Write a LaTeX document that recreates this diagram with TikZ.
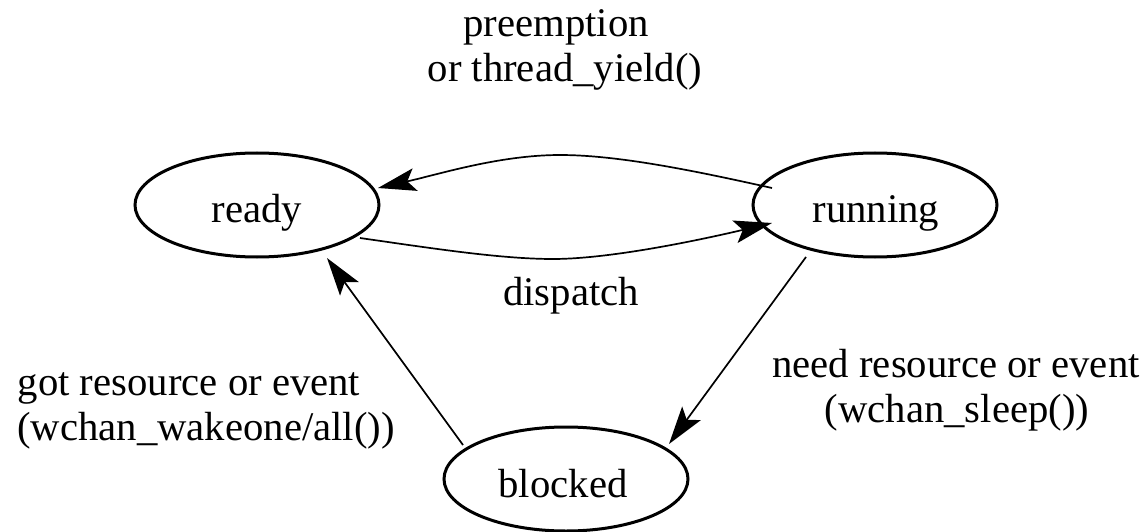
\documentclass[tikz,border=0pt]{standalone}
\usepackage{fontspec}
\setmainfont{Liberation Serif}
\usetikzlibrary{arrows.meta,calc,shapes.geometric}
\begin{document}
\begin{tikzpicture}[x=1pt,y=-1pt,
  stateshape/.style={draw,ellipse,line width=3pt,minimum width=244pt,minimum height=104pt,inner sep=0pt},
  txt/.style={anchor=base,inner sep=0pt,font=\fontsize{40.7pt}{45pt}\selectfont},
  edge/.style={line width=1.7pt,-{Stealth[length=38pt,width=23pt,inset=8pt]}}]
\useasboundingbox (0,0) rectangle (1146,532);
\node[stateshape] (ready) at (257,205) {};
\node[stateshape] (running) at (875,205) {};
\node[stateshape] (blocked) at (566,479) {};
\node[txt] (tready) at (257,222) {ready};
\node[txt] (trunning) at (876,222) {running};
\node[txt] (tblocked) at (563,497) {blocked};
\node[txt] (l1a) at (556,37) {preemption};
\node[txt] (l1b) at (565,82) {or thread\_yield()};
\node[txt] (l2) at (571,305) {dispatch};
\node[txt] (l3a) at (189,395) {got resource or event};
\node[txt] (l3b) at (206,440) {(wchan\_wakeone/all())};
\node[txt] (l4a) at (956,377) {need resource or event};
\node[txt] (l4b) at (957,422) {(wchan\_sleep())};
\coordinate (topmid) at (560,155);
\coordinate (botmid) at (553,259);
\draw[edge] ($(running.center)+(-103,-17)$) .. controls (700,172) and (620,155) .. (topmid)
  .. controls (500,155) and (440,174) .. ($(ready.center)+(121,-17)$);
\draw[edge] ($(ready.center)+(103,33)$) .. controls (430,248) and (500,259) .. (botmid)
  .. controls (610,259) and (700,240) .. ($(running.center)+(-103,18)$);
\draw[edge] ($(running.center)+(-69,52)$) -- ($(blocked.center)+(103,-35)$);
\draw[edge] ($(blocked.center)+(-103,-34)$) -- ($(ready.center)+(70,53)$);
\end{tikzpicture}
\end{document}
